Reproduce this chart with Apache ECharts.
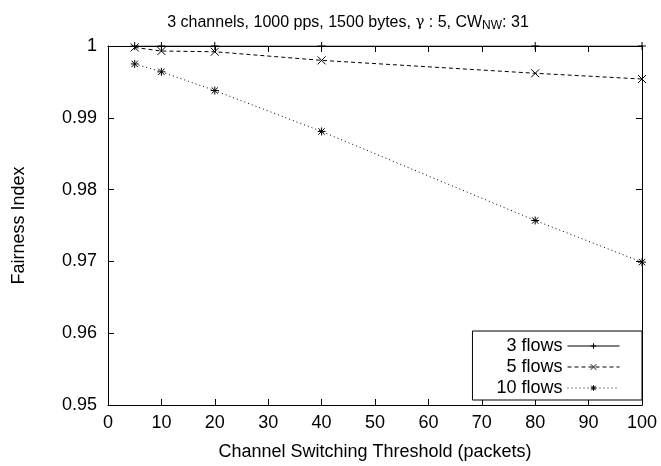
<!DOCTYPE html>
<html>
<head>
<meta charset="utf-8">
<script src="https://cdn.jsdelivr.net/npm/echarts@6/dist/echarts.min.js"></script>
<style>
  html, body { margin: 0; padding: 0; background: #fff; }
  #chart { width: 661px; height: 466px; }
</style>
</head>
<body>
<div id="chart"></div>
<script>
const thresholds = [5, 10, 20, 40, 80, 100];
const flows3 = [1.0, 1.0, 1.0, 1.0, 1.0, 1.0];
const flows5 = [0.9998, 0.9993, 0.9992, 0.9980, 0.9962, 0.9954];
const flows10 = [0.9975, 0.9964, 0.9938, 0.9881, 0.9757, 0.9699];
const seriesNames = ['3 flows', '5 flows', '10 flows'];

const plusPath = 'path://M0,-1L0,1M-1,0L1,0';
const crossPath = 'path://M-1,-1L1,1M-1,1L1,-1';
const starPath = 'path://M0,-1L0,1M-1,0L1,0M-0.8,-0.8L0.8,0.8M-0.8,0.8L0.8,-0.8';

const font = 'Liberation Sans, Arial, sans-serif';
const chart = echarts.init(document.getElementById('chart'));

function pairs (ys) {
  return thresholds.map((x, i) => [x, ys[i]]);
}

function makeSeries (name, ys, symbol, lineType) {
  return {
    name: name,
    type: 'line',
    data: pairs(ys),
    symbol: symbol,
    symbolSize: 8,
    showAllSymbol: true,
    lineStyle: { color: '#000', width: 1, type: lineType },
    itemStyle: { color: 'none', borderColor: '#000', borderWidth: 1 },
    emphasis: { disabled: true },
    z: 5
  };
}

const option = {
  animation: false,
  title: {
    text: '3 channels, 1000 pps, 1500 bytes, {g|γ} : 5, CW{sub|NW}: 31',
    left: 343,
    textAlign: 'center',
    top: 8,
    textStyle: {
      fontFamily: font,
      fontSize: 16,
      fontWeight: 'normal',
      color: '#000',
      rich: {
        g: { fontFamily: 'DejaVu Serif, serif', fontSize: 15, color: '#000' },
        sub: { fontFamily: font, fontSize: 12, color: '#000', verticalAlign: 'bottom', padding: [7, 0, 0, 0] }
      }
    }
  },
  grid: { left: 108, right: 19, top: 46, bottom: 61 },
  legend: {
    orient: 'vertical',
    right: 19,
    bottom: 66,
    align: 'right',
    itemWidth: 52,
    itemHeight: 7,
    itemGap: 3,
    padding: [6, 22, 3, 24],
    borderColor: '#000',
    borderWidth: 1,
    borderRadius: 0,
    backgroundColor: '#fff',
    itemStyle: { color: 'none', borderColor: '#000', borderWidth: 1 },
    lineStyle: { color: '#000', width: 1 },
    textStyle: { fontFamily: font, fontSize: 18, color: '#000' },
    data: seriesNames
  },
  xAxis: [
    {
      type: 'value',
      min: 0,
      max: 100,
      interval: 10,
      name: 'Channel Switching Threshold (packets)',
      nameLocation: 'middle',
      nameGap: 38,
      nameTextStyle: { fontFamily: font, fontSize: 18, color: '#000' },
      axisLine: { onZero: false, lineStyle: { color: '#000', width: 1 } },
      axisTick: { inside: true, length: 6, lineStyle: { color: '#000' } },
      axisLabel: { fontFamily: font, fontSize: 18, color: '#000', margin: 9 },
      splitLine: { show: false }
    },
    {
      type: 'value',
      position: 'top',
      min: 0,
      max: 100,
      interval: 10,
      axisLine: { onZero: false, lineStyle: { color: '#000', width: 1 } },
      axisTick: { inside: true, length: 6, lineStyle: { color: '#000' } },
      axisLabel: { show: false },
      splitLine: { show: false }
    }
  ],
  yAxis: [
    {
      type: 'value',
      min: 0.95,
      max: 1,
      interval: 0.01,
      name: 'Fairness Index',
      nameLocation: 'middle',
      nameGap: 80,
      nameTextStyle: { fontFamily: font, fontSize: 18, color: '#000' },
      axisLine: { show: true, onZero: false, lineStyle: { color: '#000', width: 1 } },
      axisTick: { show: true, inside: true, length: 6, lineStyle: { color: '#000' } },
      axisLabel: {
        fontFamily: font, fontSize: 18, color: '#000', margin: 11,
        formatter: v => String(+v.toFixed(2))
      },
      splitLine: { show: false }
    },
    {
      type: 'value',
      position: 'right',
      min: 0.95,
      max: 1,
      interval: 0.01,
      axisLine: { show: true, onZero: false, lineStyle: { color: '#000', width: 1 } },
      axisTick: { show: true, inside: true, length: 6, lineStyle: { color: '#000' } },
      axisLabel: { show: false },
      splitLine: { show: false }
    }
  ],
  series: [
    makeSeries(seriesNames[0], flows3, plusPath, 'solid'),
    makeSeries(seriesNames[1], flows5, crossPath, [4, 3]),
    makeSeries(seriesNames[2], flows10, starPath, [1, 3])
  ]
};

chart.setOption(option);
</script>
</body>
</html>
